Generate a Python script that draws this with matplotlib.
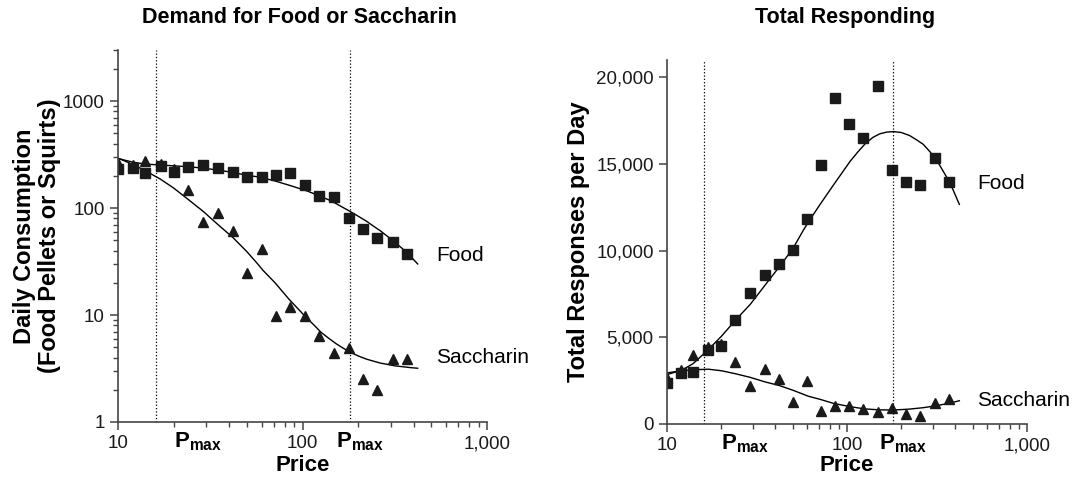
import numpy as np
import matplotlib.pyplot as plt
from matplotlib.ticker import FixedLocator, FuncFormatter, LogLocator, NullFormatter

plt.rcParams['font.family'] = ['Liberation Sans', 'DejaVu Sans']
plt.rcParams['mathtext.fontset'] = 'custom'
plt.rcParams['mathtext.rm'] = 'Liberation Sans'
plt.rcParams['mathtext.bf'] = 'Liberation Sans:bold'

# prices (responses per reinforcer)
price = [10, 12, 14, 17, 20, 24, 29, 35, 42, 50, 60, 72, 86, 103, 123, 148, 178, 214, 254, 308, 370]

# daily consumption
food_q = [230, 238, 214, 247, 218, 243, 252, 238, 216, 196, 194, 203, 214, 164, 130, 128, 80, 64, 53, 48, 37]
sacch_q = [265, 252, 277, 260, 230, 147, 74.5, 90, 61, 24.5, 41, 9.8, 12, 9.8, 6.4, 4.4, 4.9, 2.5, 2.0, 3.9, 3.9]

# total responses per day
food_resp = [2340, 2920, 3010, 4260, 4510, 5990, 7560, 8580, 9250, 10020, 11800, 14970, 18810,
             17310, 16480, 19520, 14680, 13950, 13800, 15330, 13950]
sacch_resp = [2630, 3110, 3970, 4450, 4600, 3590, 2190, 3200, 2590, 1250, 2480, 750, 1040,
              1040, 850, 670, 900, 560, 460, 1230, 1420]

# fitted demand curves
fit_price = [10, 12.1, 14, 17, 20.1, 24.2, 29, 35, 42, 50, 57, 61, 71, 84, 104, 115, 126, 139, 152,
             166, 181, 200, 223, 243, 265, 290, 316, 358, 387, 421]
food_fit_q = [290, 268, 258, 252, 248, 243, 236, 226, 215, 202, 196, 191, 179, 164, 146, 136.5, 128,
              119, 110, 101, 93, 84, 75, 67.5, 61, 54, 48, 40, 35, 30]
sacch_fit_q = [293, 254, 224, 186, 153, 119, 92.8, 69.4, 52.9, 39, 30.2, 26.2, 20, 14.2, 9.6, 8.1,
               6.9, 6.04, 5.4, 4.9, 4.5, 4.15, 3.86, 3.7, 3.55, 3.45, 3.35, 3.27, 3.22, 3.18]
food_fit_resp = [2850, 3110, 3490, 4300, 5070, 6030, 6900, 8000, 9060, 10110, 11150, 11650, 12680,
                 13780, 15150, 15700, 16160, 16530, 16740, 16840, 16870, 16820, 16640, 16400,
                 16140, 15690, 15200, 14240, 13550, 12670]
sacch_fit_resp = [2950, 3070, 3130, 3160, 3070, 2890, 2690, 2430, 2220, 1950, 1720, 1600, 1420,
                  1190, 1000, 930, 870, 840, 815, 810, 810, 830, 860, 900, 940, 1000, 1060, 1170,
                  1250, 1340]

pmax = [16, 180]

axis_col = '#444444'
mark_col = '#1a1a1a'


def style_axes(ax):
    for side in ('top', 'right'):
        ax.spines[side].set_visible(False)
    for side in ('left', 'bottom'):
        ax.spines[side].set_color(axis_col)
        ax.spines[side].set_linewidth(1.2)
    ax.tick_params(which='both', direction='out', colors=axis_col, labelcolor='#1a1a1a',
                   labelsize=13.5)
    ax.tick_params(which='major', length=6, width=1.1)
    ax.tick_params(which='minor', length=3.5, width=1.0)
    ax.set_xscale('log')
    ax.set_xlim(10, 1000)
    ax.xaxis.set_major_locator(FixedLocator([10, 100, 1000]))
    ax.xaxis.set_major_formatter(FuncFormatter(lambda v, p: f'{v:,.0f}'))
    ax.xaxis.set_minor_locator(LogLocator(base=10, subs=np.arange(2, 10)))
    ax.xaxis.set_minor_formatter(NullFormatter())
    for p in pmax:
        ax.axvline(p, color='k', ls=':', lw=0.9)
    for x in (27, 205):
        ax.text(x, -0.022, r'$\mathbf{P}_{\mathbf{max}}$', transform=ax.get_xaxis_transform(),
                ha='center', va='top', fontsize=16)
    ax.set_xlabel('Price', fontsize=16, fontweight='bold')


fig = plt.figure(figsize=(10.72, 4.84), dpi=100)
ax1 = fig.add_axes([0.1101, 0.1281, 0.3442, 0.7686])
ax2 = fig.add_axes([0.6222, 0.124, 0.3358, 0.752])

# left: consumption on log-log axes
ax1.plot(fit_price, food_fit_q, color='k', lw=1)
ax1.plot(fit_price, sacch_fit_q, color='k', lw=1)
ax1.plot(price, food_q, 's', color=mark_col, ms=7)
ax1.plot(price, sacch_q, '^', color=mark_col, ms=7.5)
style_axes(ax1)
ax1.set_yscale('log')
ax1.set_ylim(1, 3000)
ax1.yaxis.set_major_locator(FixedLocator([1, 10, 100, 1000]))
ax1.yaxis.set_major_formatter(FuncFormatter(lambda v, p: f'{v:.0f}'))
ax1.yaxis.set_minor_locator(LogLocator(base=10, subs=np.arange(2, 10)))
ax1.yaxis.set_minor_formatter(NullFormatter())
ax1.set_ylabel('Daily Consumption\n(Food Pellets or Squirts)', fontsize=17, fontweight='bold',
               linespacing=1.1)
ax1.yaxis.set_label_coords(-0.155, 0.5)
ax1.xaxis.set_label_coords(0.5, -0.09)
ax1.text(530, 36, 'Food', fontsize=15, va='center')
ax1.text(530, 4.05, 'Saccharin', fontsize=15, va='center')

# right: total responding, linear y
ax2.plot(fit_price, food_fit_resp, color='k', lw=1)
ax2.plot(fit_price, sacch_fit_resp, color='k', lw=1)
ax2.plot(price, food_resp, 's', color=mark_col, ms=7)
ax2.plot(price, sacch_resp, '^', color=mark_col, ms=7.5)
style_axes(ax2)
ax2.set_ylim(0, 21000)
ax2.yaxis.set_major_locator(FixedLocator([0, 5000, 10000, 15000, 20000]))
ax2.yaxis.set_major_formatter(FuncFormatter(lambda v, p: f'{v:,.0f}'))
ax2.set_ylabel('Total Responses per Day', fontsize=17, fontweight='bold')
ax2.yaxis.set_label_coords(-0.214, 0.5)
ax2.xaxis.set_label_coords(0.5, -0.085)
ax2.text(527, 13870, 'Food', fontsize=15, va='center')
ax2.text(527, 1380, 'Saccharin', fontsize=15, va='center')

fig.text(0.279, 0.963, 'Demand for Food or Saccharin', ha='center', va='center',
         fontsize=15.5, fontweight='bold')
fig.text(0.788, 0.963, 'Total Responding', ha='center', va='center',
         fontsize=15.5, fontweight='bold')

fig.savefig('out.png', dpi=100)
